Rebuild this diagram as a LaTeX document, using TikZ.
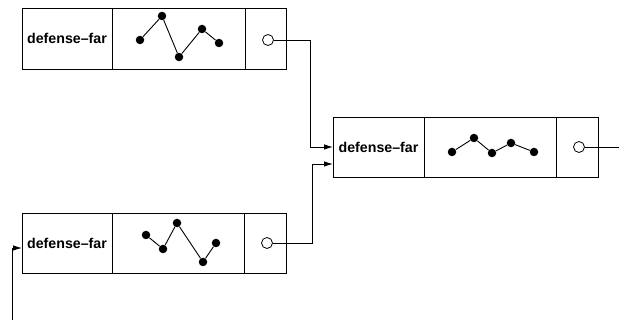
\documentclass[tikz,border=0pt]{standalone}
\usepackage{fontspec}
\setmainfont{Liberation Sans}
\usetikzlibrary{arrows.meta}
\tikzset{
  cell/.style={draw, rectangle, inner sep=0pt, outer sep=0pt, line width=0.9pt, anchor=north west},
  dot/.style={circle, fill=black, inner sep=0pt, minimum size=8.5pt},
  port/.style={circle, draw, fill=white, line width=0.8pt, inner sep=0pt, minimum size=11pt},
  lbl/.style={font=\fontsize{14.2}{16}\selectfont\bfseries},
  wire/.style={line width=0.9pt},
  arr/.style={wire, -{Latex[length=9pt,width=5.5pt]}},
}
\begin{document}
\begin{tikzpicture}[x=1pt,y=-1pt]
\useasboundingbox (0,0) rectangle (619,320);
% top box
\node[cell, minimum width=90pt, minimum height=61pt] (ta) at (22,8) {};
\node[cell, minimum width=133pt, minimum height=61pt] (tb) at (112,8) {};
\node[cell, minimum width=41pt, minimum height=61pt] (tc) at (245,8) {};
\node[lbl] (tl) at (ta.center) {defense--far};
\node[dot] (t1) at (140,40) {};
\node[dot] (t2) at (162,16) {};
\node[dot] (t3) at (179,57) {};
\node[dot] (t4) at (202,29) {};
\node[dot] (t5) at (219,43) {};
\draw[wire] (t1) -- (t2) -- (t3) -- (t4) -- (t5);
\node[port] (tp) at (268,40) {};
% middle box
\node[cell, minimum width=91pt, minimum height=60pt] (ma) at (333,117) {};
\node[cell, minimum width=132pt, minimum height=60pt] (mb) at (424,117) {};
\node[cell, minimum width=42pt, minimum height=60pt] (mc) at (556,117) {};
\node[lbl] (ml) at (ma.center) {defense--far};
\node[dot] (m1) at (452,152) {};
\node[dot] (m2) at (474,138) {};
\node[dot] (m3) at (492,153) {};
\node[dot] (m4) at (511,143) {};
\node[dot] (m5) at (534,152) {};
\draw[wire] (m1) -- (m2) -- (m3) -- (m4) -- (m5);
\node[port] (mp) at (579,147) {};
% bottom box
\node[cell, minimum width=90pt, minimum height=60pt] (ba) at (22,213) {};
\node[cell, minimum width=132pt, minimum height=60pt] (bb) at (112,213) {};
\node[cell, minimum width=42pt, minimum height=60pt] (bc) at (244,213) {};
\node[lbl] (bl) at (ba.center) {defense--far};
\node[dot] (b1) at (146,235) {};
\node[dot] (b2) at (163,249) {};
\node[dot] (b3) at (177,223) {};
\node[dot] (b4) at (203,262) {};
\node[dot] (b5) at (216,243) {};
\draw[wire] (b1) -- (b2) -- (b3) -- (b4) -- (b5);
\node[port] (bp) at (267,243) {};
% connectors
\coordinate (k1) at (310,147);
\draw[arr] (tp.east) -| (k1) -- (ma.west);
\coordinate (k2) at (312,164);
\coordinate (in2) at (333,164);
\draw[arr] (bp.east) -| (k2) -- (in2);
\coordinate (out) at (619,147);
\draw[wire] (mp.east) -- (out);
\coordinate (s) at (12,320);
\coordinate (e) at (22,248);
\draw[arr] (s) |- (e);
\end{tikzpicture}
\end{document}
